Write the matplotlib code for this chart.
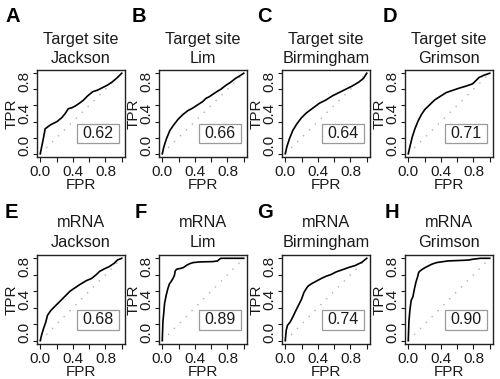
import matplotlib
matplotlib.use('Agg')
import matplotlib.pyplot as plt
from matplotlib.patches import Rectangle
from matplotlib.transforms import ScaledTranslation

plt.rcParams['font.family'] = ['Liberation Sans', 'DejaVu Sans']

W, H = 500, 379

panel_letters = ['A', 'B', 'C', 'D', 'E', 'F', 'G', 'H']
title_top = ['Target site'] * 4 + ['mRNA'] * 4
title_bottom = ['Jackson', 'Lim', 'Birmingham', 'Grimson'] * 2
auc_labels = ['0.62', '0.66', '0.64', '0.71', '0.68', '0.89', '0.74', '0.90']
tick_values = [0.0, 0.2, 0.4, 0.6, 0.8, 1.0]
tick_labels = ['0.0', '', '0.4', '', '0.8', '']
x_label = 'FPR'
y_label = 'TPR'

fpr_A = [0, 0.02, 0.04, 0.06, 0.127, 0.206, 0.266, 0.306, 0.345, 0.385, 0.425, 0.484, 0.524, 0.583, 0.643, 0.702, 0.762, 0.821, 0.881, 0.94, 1.0]
tpr_A = [0, 0.10, 0.20, 0.31, 0.36, 0.40, 0.45, 0.50, 0.56, 0.57, 0.59, 0.63, 0.66, 0.72, 0.77, 0.79, 0.82, 0.85, 0.89, 0.94, 1.0]

fpr_B = [0, 0.02, 0.052, 0.093, 0.133, 0.194, 0.254, 0.315, 0.375, 0.435, 0.496, 0.536, 0.577, 0.617, 0.677, 0.718, 0.778, 0.839, 0.899, 0.94, 1.0]
tpr_B = [0, 0.088, 0.188, 0.288, 0.348, 0.428, 0.488, 0.536, 0.568, 0.608, 0.648, 0.688, 0.708, 0.736, 0.776, 0.80, 0.848, 0.888, 0.936, 0.96, 1.0]

fpr_C = [0, 0.02, 0.052, 0.092, 0.14, 0.20, 0.26, 0.34, 0.42, 0.50, 0.58, 0.66, 0.74, 0.82, 0.90, 0.96, 1.0]
tpr_C = [0, 0.088, 0.188, 0.288, 0.368, 0.448, 0.508, 0.568, 0.628, 0.668, 0.72, 0.76, 0.80, 0.84, 0.888, 0.936, 1.0]

fpr_D = [0, 0.02, 0.049, 0.081, 0.121, 0.162, 0.202, 0.263, 0.324, 0.385, 0.466, 0.547, 0.628, 0.709, 0.789, 0.83, 0.87, 0.931, 1.0]
tpr_D = [0, 0.088, 0.208, 0.308, 0.408, 0.488, 0.548, 0.608, 0.668, 0.708, 0.76, 0.788, 0.816, 0.84, 0.868, 0.908, 0.948, 0.976, 1.0]

fpr_E = [0, 0.016, 0.04, 0.068, 0.088, 0.128, 0.188, 0.248, 0.308, 0.368, 0.428, 0.488, 0.568, 0.628, 0.688, 0.728, 0.788, 0.848, 0.908, 0.948, 1.0]
tpr_E = [0, 0.067, 0.147, 0.226, 0.306, 0.365, 0.425, 0.484, 0.544, 0.603, 0.643, 0.683, 0.73, 0.754, 0.802, 0.841, 0.873, 0.90, 0.94, 0.98, 1.0]

fpr_F = [0, 0.008, 0.02, 0.028, 0.048, 0.068, 0.088, 0.108, 0.128, 0.148, 0.16, 0.18, 0.22, 0.26, 0.30, 0.34, 0.38, 0.46, 0.62, 0.68, 0.70, 0.72, 1.0]
tpr_F = [0, 0.231, 0.351, 0.45, 0.55, 0.63, 0.69, 0.717, 0.749, 0.789, 0.849, 0.869, 0.876, 0.888, 0.916, 0.936, 0.948, 0.956, 0.96, 0.968, 0.988, 1.0, 1.0]

fpr_G = [0, 0.012, 0.028, 0.06, 0.092, 0.12, 0.16, 0.20, 0.228, 0.252, 0.28, 0.32, 0.38, 0.44, 0.50, 0.56, 0.62, 0.70, 0.78, 0.86, 0.94, 1.0]
tpr_G = [0, 0.127, 0.187, 0.226, 0.286, 0.345, 0.425, 0.504, 0.583, 0.623, 0.663, 0.69, 0.722, 0.754, 0.782, 0.802, 0.833, 0.861, 0.889, 0.913, 0.952, 1.0]

fpr_H = [0, 0.008, 0.02, 0.036, 0.056, 0.076, 0.096, 0.116, 0.128, 0.148, 0.176, 0.208, 0.248, 0.288, 0.348, 0.488, 0.688, 0.748, 0.788, 0.888, 1.0]
tpr_H = [0, 0.231, 0.371, 0.49, 0.53, 0.63, 0.717, 0.78, 0.829, 0.849, 0.869, 0.888, 0.908, 0.928, 0.948, 0.968, 0.976, 0.98, 0.988, 1.0, 1.0]

fpr_all = [fpr_A, fpr_B, fpr_C, fpr_D, fpr_E, fpr_F, fpr_G, fpr_H]
tpr_all = [tpr_A, tpr_B, tpr_C, tpr_D, tpr_E, tpr_F, tpr_G, tpr_H]

# layout (pixels)
col_left = [37, 159, 282, 405]
ax_w = 88
row_top = [70, 255]
row_bot = [157, 344]
letter_x = [[5, 132, 257, 383], [5, 135, 257, 385]]
letter_base = [22, 218]
title1_base = [44, 227]
title2_base = [63, 247]

TXT = '#1a1a1a'

fig = plt.figure(figsize=(W / 100, H / 100), dpi=100)


def fx(px):
    return px / W


def fy(py):
    return 1 - py / H


for i in range(8):
    r, c = divmod(i, 4)
    left = col_left[c]
    top, bot = row_top[r], row_bot[r]
    ax = fig.add_axes([fx(left), fy(bot), fx(ax_w), (bot - top) / H])
    ax.plot([0, 1], [0, 1], color='#b0b0b0', lw=1.0, linestyle=(0, (1, 5)))
    ax.plot(fpr_all[i], tpr_all[i], color='black', lw=1.2)
    ax.set_xlim(-0.04, 1.04)
    ax.set_ylim(-0.04, 1.04)
    ax.set_xticks(tick_values)
    ax.set_yticks(tick_values)
    ax.set_xticklabels(tick_labels, fontsize=11, color=TXT)
    ax.set_yticklabels(tick_labels, fontsize=11, color=TXT, rotation=90, va='center')
    ax.tick_params(axis='x', length=3.5, width=0.8, pad=2.5, colors=TXT)
    ax.tick_params(axis='y', length=3, width=0.8, pad=1, colors=TXT)
    off = ScaledTranslation(0, 8 / 100, fig.dpi_scale_trans)
    for lab in ax.get_yticklabels():
        lab.set_transform(lab.get_transform() + off)
    for sp in ax.spines.values():
        sp.set_linewidth(1.0)
        sp.set_color('#222222')
    # AUC box
    bx0, bx1 = 0.455, 0.932
    by0, by1 = 0.161, 0.379
    ax.add_patch(Rectangle((bx0, by0), bx1 - bx0, by1 - by0, transform=ax.transAxes,
                           facecolor='white', edgecolor='#9a9a9a', lw=0.9, zorder=3))
    ax.text((bx0 + bx1) / 2, (by0 + by1) / 2, auc_labels[i], transform=ax.transAxes,
            ha='center', va='center', fontsize=11.5, color=TXT, zorder=4)
    # axis labels
    cx = left + ax_w / 2
    fig.text(fx(cx), fy(bot + 32), x_label, ha='center', va='baseline', fontsize=11, color=TXT)
    fig.text(fx(left - 25.5), fy((top + bot) / 2), y_label, ha='center', va='center',
             rotation=90, fontsize=11, color=TXT)
    # titles
    fig.text(fx(cx), fy(title1_base[r]), title_top[i], ha='center', va='baseline',
             fontsize=11.7, color=TXT)
    fig.text(fx(cx), fy(title2_base[r]), title_bottom[i], ha='center', va='baseline',
             fontsize=11.7, color=TXT)
    # panel letter
    fig.text(fx(letter_x[r][c]), fy(letter_base[r]), panel_letters[i], ha='left',
             va='baseline', fontsize=14.5, fontweight='bold', color='black')

fig.savefig('out.png', dpi=100, facecolor='white')
